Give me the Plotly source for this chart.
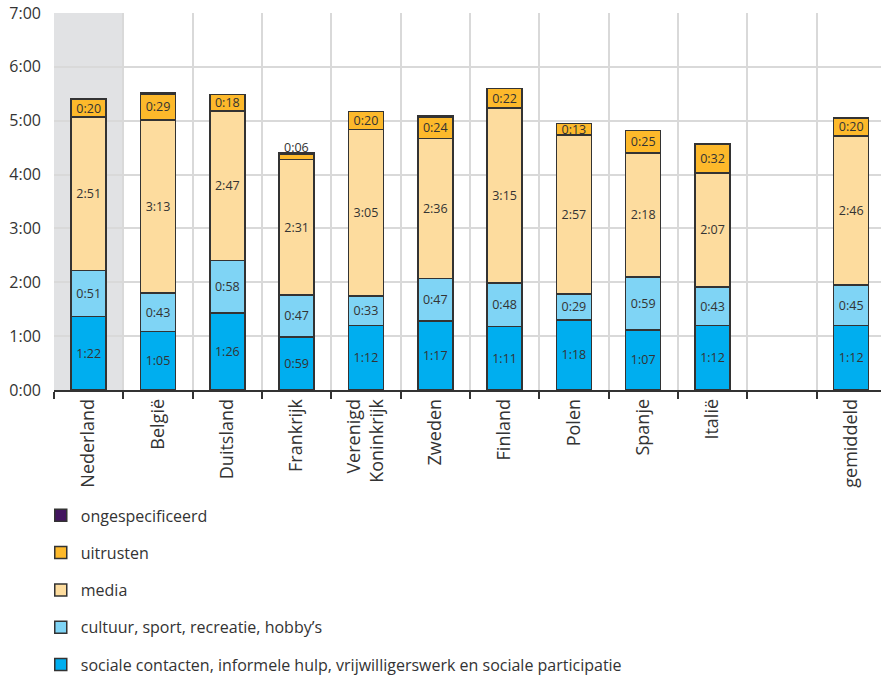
import plotly.graph_objects as go

categories = ["Nederland", "België", "Duitsland", "Frankrijk", "Verenigd<br>Koninkrijk",
              "Zweden", "Finland", "Polen", "Spanje", "Italië", " ", "gemiddeld"]

# minutes per day
sociale = [82, 65, 86, 59, 72, 77, 71, 78, 67, 72, None, 72]
cultuur = [51, 43, 58, 47, 33, 47, 48, 29, 59, 43, None, 45]
media = [171, 193, 167, 151, 185, 156, 195, 177, 138, 127, None, 166]
uitrusten = [20, 29, 18, 6, 20, 24, 22, 13, 25, 32, None, 20]
ongespecificeerd = [0, 1, 0, 1, 0, 1, 0, 0, 0, 0, None, 0]

series_names = ["sociale contacten, informele hulp, vrijwilligerswerk en sociale participatie",
                "cultuur, sport, recreatie, hobby’s", "media", "uitrusten", "ongespecificeerd"]
colors = ["#00AEEF", "#7FD4F5", "#FDDC9E", "#FDB92B", "#42145F"]

yticks = list(range(0, 421, 60))
yticktext = [f"{v // 60}:00" for v in yticks]


def fmt(m):
    if m is None:
        return ""
    return f"{m // 60}:{m % 60:02d}"


fig = go.Figure()
all_series = [sociale, cultuur, media, uitrusten, ongespecificeerd]
for idx, (vals, name, col) in enumerate(zip(all_series, series_names, colors)):
    if idx < 4:
        texts = [fmt(v) for v in vals]
        if idx == 3:
            # too small segment: label placed above the bar
            texts = [t if (v is None or v >= 10) else "" for t, v in zip(texts, vals)]
    else:
        texts = ["" for _ in vals]
    fig.add_trace(go.Bar(
        x=categories, y=vals, name=name, legendgroup=str(idx),
        legendrank=100 - idx,
        marker=dict(color=col, line=dict(color="#333333", width=1.5)),
        text=texts, textposition="inside", insidetextanchor="middle",
        textangle=0, constraintext="none",
        textfont=dict(size=12.5, color="#333333", family="Open Sans"),
        hoverinfo="skip",
    ))

# annotation for small uitrusten segments
for i, cat in enumerate(categories):
    v = uitrusten[i]
    if v is not None and v < 10:
        total = sum(s[i] for s in all_series)
        fig.add_annotation(x=cat, y=total, text=fmt(v), showarrow=False,
                           yanchor="bottom", yshift=-5,
                           font=dict(size=12.5, color="#333333", family="Open Sans"))

# highlight Nederland
fig.add_shape(type="rect", xref="x", yref="y", x0=-0.5, x1=0.5, y0=0, y1=420,
              fillcolor="#E1E2E4", line=dict(width=0), layer="below")

fig.update_layout(
    width=881, height=676,
    margin=dict(l=54, r=0, t=13, b=286, autoexpand=False),
    barmode="stack", bargap=0.495,
    plot_bgcolor="white", paper_bgcolor="white",
    font=dict(family="Open Sans", color="#333333"),
    uniformtext=dict(minsize=12.5, mode="show"),
    legend=dict(x=-0.016, xanchor="left", y=-0.2875, yanchor="top",
                traceorder="grouped", tracegroupgap=13.5,
                font=dict(size=16, color="#333333"), bgcolor="rgba(0,0,0,0)"),
    xaxis=dict(categoryorder="array", categoryarray=categories,
               range=[-0.5, 11.43], tickson="boundaries", automargin=False,
               showgrid=True, gridcolor="#D9D9D9", gridwidth=1.5,
               showline=True, linecolor="#333333", linewidth=1.5,
               ticks="outside", ticklen=7, tickcolor="#333333", tickwidth=1.5,
               tickangle=-90, tickfont=dict(size=18, color="#333333")),
    yaxis=dict(range=[0, 420], tickvals=yticks, ticktext=yticktext, automargin=False,
               showgrid=True, gridcolor="#D9D9D9", gridwidth=1.5,
               zeroline=False, showline=False, ticks="", ticklabelstandoff=12,
               tickfont=dict(size=16, color="#333333")),
)

fig.write_html("out.html", config={"displayModeBar": False},
               post_script="document.body.style.margin='0';document.body.style.overflow='hidden';")
